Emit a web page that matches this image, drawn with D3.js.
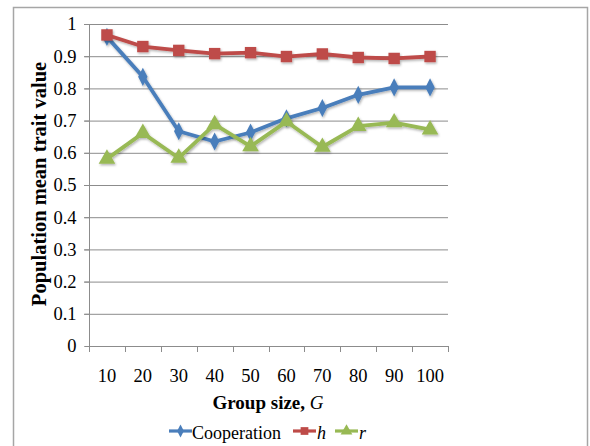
<!DOCTYPE html>
<html><head><meta charset="utf-8">
<script src="https://cdn.jsdelivr.net/npm/d3@7"></script>
<style>
body{margin:0;background:#fff;}
svg{display:block;}
svg text{font-family:"Liberation Serif","Times New Roman",serif;}
</style></head>
<body><svg id="c" width="590" height="446"></svg>
<script>
const groupSizes = ["10","20","30","40","50","60","70","80","90","100"];
const cooperation = [0.960,0.836,0.667,0.635,0.663,0.707,0.739,0.780,0.803,0.803];
const hValues     = [0.966,0.930,0.918,0.908,0.911,0.899,0.907,0.896,0.893,0.899];
const rValues     = [0.581,0.661,0.584,0.688,0.620,0.697,0.618,0.683,0.694,0.672];
const yTicks = [0,0.1,0.2,0.3,0.4,0.5,0.6,0.7,0.8,0.9,1];
const seriesNames = ["Cooperation","h","r"];
const colors = ["#4A7EBB","#BE4B48","#98B954"];
const FF = "Liberation Serif";

const svg = d3.select("#c");
svg.append("rect").attr("x",13.5).attr("y",7.5).attr("width",574).attr("height",450)
  .attr("fill","#fff").attr("stroke","#a6a6a6").attr("stroke-width",1.5);

const L=89, R=448, T=24, B=346;
const x = d3.scaleBand().domain(groupSizes).range([L,R]);
const y = d3.scaleLinear().domain([0,1]).range([B,T]);

// gridlines
svg.append("g").selectAll("line").data(yTicks.filter(d=>d>0)).join("line")
  .attr("x1",L-5).attr("x2",R).attr("y1",d=>y(d)+0.5).attr("y2",d=>y(d)+0.5)
  .attr("stroke","#8c8c8c").attr("stroke-width",1);

// y axis
const ya = svg.append("g").attr("transform",`translate(${L+0.5},0)`)
  .call(d3.axisLeft(y).tickValues(yTicks).tickFormat(d=>d3.format("")(+d.toFixed(1))).tickSize(5).tickPadding(8));
ya.attr("font-family",FF);
ya.select(".domain").attr("stroke","#8c8c8c").attr("d",`M-5,${B+0.5}H0V${T}`);
ya.selectAll(".tick line").attr("stroke","#8c8c8c");
ya.selectAll(".tick text").attr("font-size","18.5px").attr("fill","#000").attr("font-family",FF);

// x axis
const xa = svg.append("g").attr("transform",`translate(0,${B+0.5})`)
  .call(d3.axisBottom(x).tickSize(0).tickPadding(22));
xa.attr("font-family",FF);
xa.select(".domain").attr("stroke","#8c8c8c").attr("d",`M${L},0H${R}`);
xa.selectAll(".tick text").attr("font-size","18.5px").attr("fill","#000").attr("font-family",FF);
svg.append("g").selectAll("line").data(d3.range(groupSizes.length+1)).join("line")
  .attr("x1",i=>Math.round(L+i*x.step())+0.5).attr("x2",i=>Math.round(L+i*x.step())+0.5)
  .attr("y1",B).attr("y2",B+6).attr("stroke","#8c8c8c");

// axis titles
svg.append("text").attr("transform",`translate(46,184) rotate(-90)`).attr("text-anchor","middle")
  .attr("font-family",FF).attr("font-size","20.5px").attr("font-weight","bold").text("Population mean trait value");
const xt = svg.append("text").attr("x",268).attr("y",409).attr("text-anchor","middle")
  .attr("font-family",FF).attr("font-size","19px").attr("font-weight","bold");
xt.append("tspan").text("Group size, ");
xt.append("tspan").attr("font-style","italic").attr("font-weight","normal").text("G");

const data = [cooperation,hValues,rValues];
const cx = d => x(d)+x.bandwidth()/2;
const line = d3.line().x((v,i)=>cx(groupSizes[i])).y(v=>y(v));
const shapes = [d3.symbolDiamond, d3.symbolSquare, d3.symbolTriangle];
const sizes = [95, 130, 120];

const defs = svg.append("defs");
const f = defs.append("filter").attr("id","sh").attr("x","-20%").attr("y","-20%").attr("width","140%").attr("height","140%");
f.append("feDropShadow").attr("dx",1).attr("dy",1.5).attr("stdDeviation",1).attr("flood-color","#000").attr("flood-opacity",0.3);

data.forEach((vals,k)=>{
  const g = svg.append("g").attr("filter","url(#sh)");
  g.append("path").datum(vals).attr("d",line).attr("fill","none")
    .attr("stroke",colors[k]).attr("stroke-width",3.8).attr("stroke-linejoin","round");
  g.selectAll("path.m").data(vals).join("path").attr("class","m")
    .attr("transform",(v,i)=>`translate(${cx(groupSizes[i])},${y(v)})${k===0?" scale(0.9,1)":""}`)
    .attr("d",d3.symbol().type(shapes[k]).size(sizes[k])).attr("fill",colors[k]);
});

// legend
const legItems = [{x:169,tx:192,k:0},{x:293,tx:317,k:1},{x:335,tx:359,k:2}];
legItems.forEach(it=>{
  const g = svg.append("g");
  g.append("line").attr("x1",it.x).attr("x2",it.x+23).attr("y1",431).attr("y2",431)
    .attr("stroke",colors[it.k]).attr("stroke-width",3.2);
  g.append("path").attr("transform",`translate(${it.x+11.5},431)${it.k===0?" scale(0.9,1)":""}`)
    .attr("d",d3.symbol().type(shapes[it.k]).size(it.k===0?50:60)).attr("fill",colors[it.k]);
  const t = g.append("text").attr("x",it.tx).attr("y",439).attr("font-family",FF)
    .attr("font-size","18px").text(seriesNames[it.k]);
  if(it.k>0) t.attr("font-style","italic");
});
</script></body></html>
